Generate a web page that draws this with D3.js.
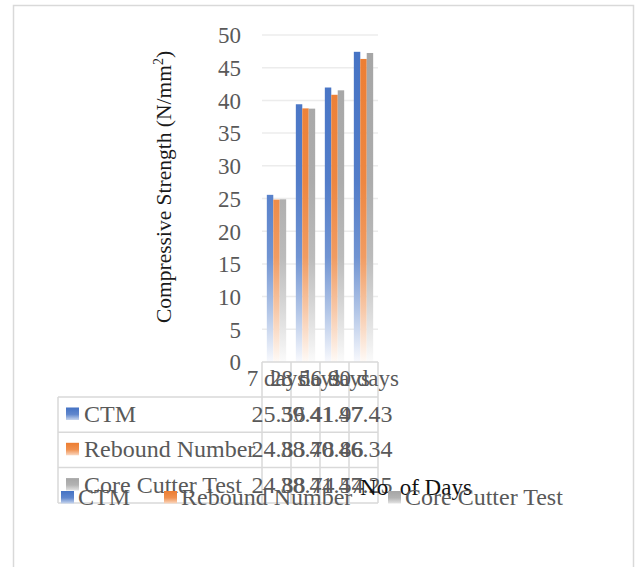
<!DOCTYPE html>
<html>
<head>
<meta charset="utf-8">
<script src="https://cdn.jsdelivr.net/npm/d3@7"></script>
<style>
  html, body { margin: 0; padding: 0; background: #fff; }
  svg { display: block; }
  text { font-family: "Liberation Serif", "Times New Roman", serif; }
</style>
</head>
<body>
<svg id="chart" width="639" height="567"></svg>
<script>
// Compressive strength by curing age, three test methods
const categories = ["7 days", "28 days", "56 days", "90 days"];
const seriesNames = ["CTM", "Rebound Number", "Core Cutter Test"];
const ctm = [25.56, 39.41, 41.97, 47.43];
const rebound = [24.83, 38.78, 40.86, 46.34];
const coreCutter = [24.88, 38.74, 41.54, 47.25];
const yTicks = [0, 5, 10, 15, 20, 25, 30, 35, 40, 45, 50];
const colors = ["#4472C4", "#ED7D31", "#A5A5A5"];

const seriesValues = [ctm, rebound, coreCutter];
const series = seriesNames.map((name, i) => ({ name, values: seriesValues[i], color: colors[i] }));

const svg = d3.select("#chart");
const FONT = 23;
const TABLE_FONT = 24;
const textGray = "#595959";
const lineGray = "#d9d9d9";

// chart area outline
svg.append("rect")
  .attr("x", 13.5).attr("y", 5.5)
  .attr("width", 620).attr("height", 580)
  .attr("fill", "#fff").attr("stroke", lineGray).attr("stroke-width", 1.5);

const plot = { left: 262, right: 378, top: 35, bottom: 362 };

const x0 = d3.scaleBand().domain(categories).range([plot.left, plot.right]);
const x1 = d3.scaleBand().domain(seriesNames).range([0, x0.bandwidth()]).paddingOuter(0.75);
const y = d3.scaleLinear().domain([0, 50]).range([plot.bottom, plot.top]);

// vertical fades: full colour high on the axis, near white at zero
const defs = svg.append("defs");
series.forEach((s, i) => {
  const g = defs.append("linearGradient")
    .attr("id", "fade" + i)
    .attr("gradientUnits", "userSpaceOnUse")
    .attr("x1", 0).attr("x2", 0)
    .attr("y1", y(50)).attr("y2", y(0));
  const c = d3.color(s.color);
  const mix = t => d3.interpolateRgb("#ffffff", s.color)(t);
  g.append("stop").attr("offset", 0).attr("stop-color", c.formatHex());
  g.append("stop").attr("offset", 0.45).attr("stop-color", mix(0.92));
  g.append("stop").attr("offset", 0.68).attr("stop-color", mix(0.76));
  g.append("stop").attr("offset", 0.84).attr("stop-color", mix(0.42));
  g.append("stop").attr("offset", 1).attr("stop-color", mix(0.04));
  // key swatches use a short fade of their own
  const k = defs.append("linearGradient")
    .attr("id", "key" + i)
    .attr("x1", 0).attr("x2", 0).attr("y1", 0).attr("y2", 1);
  k.append("stop").attr("offset", 0).attr("stop-color", c.formatHex());
  k.append("stop").attr("offset", 0.55).attr("stop-color", mix(0.85));
  k.append("stop").attr("offset", 1).attr("stop-color", mix(0.3));
});

// gridlines
svg.append("g")
  .selectAll("line")
  .data(yTicks.filter(d => d > 0))
  .join("line")
  .attr("x1", plot.left).attr("x2", plot.right)
  .attr("y1", d => y(d)).attr("y2", d => y(d))
  .attr("stroke", "#ececec").attr("stroke-width", 1.5);

// y axis labels
const yAxis = d3.axisLeft(y).tickValues(yTicks).tickSize(0).tickPadding(0);
const yG = svg.append("g").attr("transform", "translate(241,0)").call(yAxis);
yG.select(".domain").remove();
yG.selectAll("text")
  .attr("font-family", "Liberation Serif, Times New Roman, serif")
  .attr("font-size", FONT).attr("fill", textGray).attr("dy", "0.34em");

// bars
const groups = svg.append("g")
  .selectAll("g")
  .data(series)
  .join("g")
  .attr("fill", (d, i) => `url(#fade${i})`);
groups.selectAll("rect")
  .data(s => s.values.map((v, j) => ({ name: s.name, cat: categories[j], v })))
  .join("rect")
  .attr("x", d => x0(d.cat) + x1(d.name))
  .attr("width", x1.bandwidth())
  .attr("y", d => y(d.v))
  .attr("height", d => y(0) - y(d.v));

// data table
const table = { left: 58, top: 397, rowH: 35.3 };
const tableBottom = table.top + table.rowH * 3;
const tg = svg.append("g").attr("stroke", lineGray).attr("stroke-width", 1.5);
// axis line / header top
tg.append("line").attr("x1", plot.left).attr("x2", plot.right).attr("y1", plot.bottom).attr("y2", plot.bottom);
// column separators
const colEdges = categories.map(c => x0(c)).concat([plot.right]);
tg.selectAll("line.col").data(colEdges).join("line").attr("class", "col")
  .attr("x1", d => d).attr("x2", d => d)
  .attr("y1", plot.bottom).attr("y2", tableBottom);
// row lines
tg.selectAll("line.row").data(d3.range(4)).join("line").attr("class", "row")
  .attr("x1", table.left).attr("x2", plot.right)
  .attr("y1", i => table.top + i * table.rowH).attr("y2", i => table.top + i * table.rowH);
tg.append("line").attr("x1", table.left).attr("x2", table.left).attr("y1", table.top).attr("y2", tableBottom);

// category headers
svg.append("g").selectAll("text").data(categories).join("text")
  .attr("x", d => x0(d) + x0.bandwidth() / 2).attr("y", 386)
  .attr("text-anchor", "middle").attr("font-size", FONT).attr("fill", textGray)
  .text(d => d);

// table rows
series.forEach((s, i) => {
  const rowY = table.top + i * table.rowH;
  svg.append("rect").attr("x", 66).attr("y", rowY + 10.5).attr("width", 13).attr("height", 12.5)
    .attr("fill", `url(#key${i})`);
  svg.append("text").attr("x", 84).attr("y", rowY + 25)
    .attr("font-size", TABLE_FONT).attr("fill", textGray).text(s.name);
  svg.append("g").selectAll("text").data(s.values).join("text")
    .attr("x", (d, j) => x0(categories[j]) + x0.bandwidth() / 2 + 2)
    .attr("y", rowY + 25)
    .attr("text-anchor", "middle").attr("font-size", TABLE_FONT).attr("fill", textGray)
    .text(d => d.toFixed(2));
});

// axis titles
const yt = svg.append("text")
  .attr("transform", "translate(171,187) rotate(-90)")
  .attr("text-anchor", "middle").attr("font-size", 21.5).attr("fill", "#1a1a1a");
yt.append("tspan").text("Compressive Strength (N/mm");
yt.append("tspan").attr("font-size", 14).attr("dy", -8).text("2");
yt.append("tspan").attr("dy", 8).text(")");

svg.append("text").attr("x", 416).attr("y", 495)
  .attr("text-anchor", "middle").attr("font-size", FONT).attr("fill", "#111")
  .text("No. of Days");

// legend
const legendPos = [61, 164, 388];
series.forEach((s, i) => {
  svg.append("rect").attr("x", legendPos[i]).attr("y", 491).attr("width", 13).attr("height", 12.5)
    .attr("fill", `url(#key${i})`);
  svg.append("text").attr("x", legendPos[i] + 17).attr("y", 505)
    .attr("font-size", TABLE_FONT).attr("fill", textGray).text(s.name);
});
</script>
</body>
</html>
